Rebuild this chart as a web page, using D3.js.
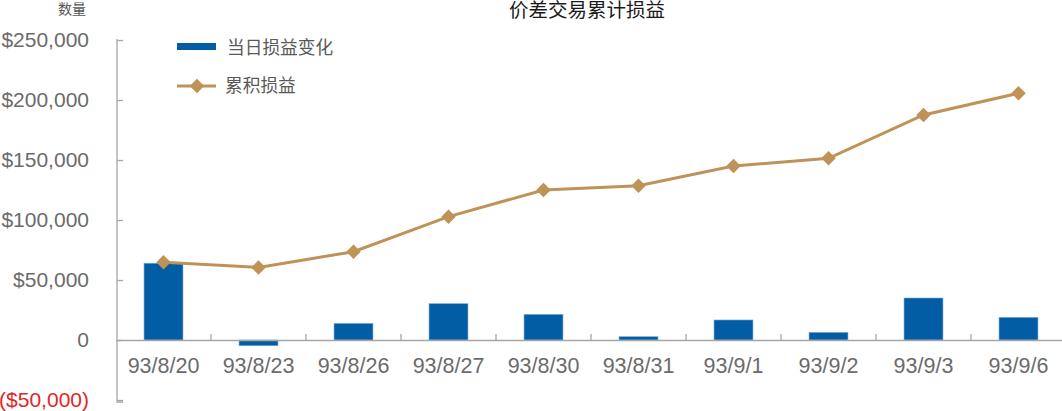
<!DOCTYPE html>
<html>
<head>
<meta charset="utf-8">
<script src="https://cdn.jsdelivr.net/npm/d3@7"></script>
<style>
  body { margin: 0; background: #fff; }
  svg { display: block; font-family: "Liberation Sans", Arial, "Noto Sans CJK SC", sans-serif; }
</style>
</head>
<body>
<div id="chart"></div>
<script>
// Chart data
var dates = ["93/8/20", "93/8/23", "93/8/26", "93/8/27", "93/8/30", "93/8/31", "93/9/1", "93/9/2", "93/9/3", "93/9/6"];
var dailyPnl = [64000, -4800, 13900, 30300, 21400, 2800, 16700, 6400, 35000, 18900];
var cumulativePnl = [64700, 60500, 73600, 102800, 125000, 128600, 145000, 151400, 187500, 205600];
var yTicks = [-50000, 0, 50000, 100000, 150000, 200000, 250000];

var width = 1062, height = 411;
var plotLeft = 116, plotRight = 1066, plotTop = 40, plotBottom = 400;

var svg = d3.select("#chart")
    .append("svg")
    .attr("width", width)
    .attr("height", height);

// Scales
var x = d3.scaleBand()
    .domain(dates)
    .range([plotLeft, plotRight])
    .padding(0);

var xBar = d3.scaleBand()
    .domain(dates)
    .range([plotLeft, plotRight])
    .paddingInner(0.59)
    .paddingOuter(0.295);

var y = d3.scaleLinear()
    .domain([-50000, 250000])
    .range([plotBottom, plotTop]);

var money = d3.format(",");
function fmt(d) {
    if (d === 0) return "0";
    if (d < 0) return "($" + money(-d) + ")";
    return "$" + money(d);
}

// Y axis
var yAxis = svg.append("g")
    .attr("transform", "translate(" + (plotLeft + 1) + ",0)")
    .call(d3.axisLeft(y).tickValues(yTicks).tickFormat(fmt).tickSizeInner(-6).tickSizeOuter(0).tickPadding(28));
yAxis.select(".domain").attr("stroke", "#a6a6a6").attr("stroke-width", 1.3)
    .attr("d", "M0," + (plotTop - 1) + "V" + (plotBottom + 2) + "H6");
yAxis.selectAll(".tick line").attr("stroke", "#a6a6a6").attr("stroke-width", 1.3);
yAxis.selectAll(".tick text")
    .style("font-size", "21px")
    .attr("fill", function (d) { return d < 0 ? "#e0262b" : "#6b6b6b"; });

// Bars
svg.selectAll("rect.bar")
    .data(dailyPnl)
    .enter()
    .append("rect")
    .attr("class", "bar")
    .attr("x", function (d, i) { return xBar(dates[i]); })
    .attr("width", xBar.bandwidth())
    .attr("y", function (d) { return y(Math.max(d, 0)); })
    .attr("height", function (d) { return Math.abs(y(d) - y(0)); })
    .attr("fill", "#035da4")
    .attr("stroke", "#7fb0dc")
    .attr("stroke-width", 0.6);

// X axis (at zero)
var xAxis = svg.append("g")
    .attr("transform", "translate(0," + y(0) + ")")
    .call(d3.axisBottom(x).tickSize(0).tickPadding(18));
xAxis.select(".domain").attr("stroke", "#a6a6a6").attr("stroke-width", 1.5);
xAxis.selectAll(".tick text")
    .style("font-size", "21.5px")
    .attr("fill", "#6b6b6b");

// category boundary ticks
svg.append("g")
    .selectAll("line")
    .data(dates.slice(1))
    .enter()
    .append("line")
    .attr("x1", function (d) { return x(d); })
    .attr("x2", function (d) { return x(d); })
    .attr("y1", y(0))
    .attr("y2", y(0) - 6)
    .attr("stroke", "#a6a6a6")
    .attr("stroke-width", 1.3);

// Cumulative line
var line = d3.line()
    .x(function (d, i) { return x(dates[i]) + x.bandwidth() / 2; })
    .y(function (d) { return y(d); });

svg.append("path")
    .datum(cumulativePnl)
    .attr("d", line)
    .attr("fill", "none")
    .attr("stroke", "#bf9358")
    .attr("stroke-width", 3);

var diamond = d3.symbol().type(d3.symbolSquare).size(105);
svg.selectAll("path.pt")
    .data(cumulativePnl)
    .enter()
    .append("path")
    .attr("class", "pt")
    .attr("d", diamond)
    .attr("transform", function (d, i) {
        return "translate(" + (x(dates[i]) + x.bandwidth() / 2) + "," + y(d) + ") rotate(45)";
    })
    .attr("fill", "#bf9358");

// Title and unit
svg.append("text")
    .attr("x", 587)
    .attr("y", 17)
    .attr("text-anchor", "middle")
    .style("font-size", "19.5px")
    .attr("fill", "#1a1a1a")
    .text("价差交易累计损益");

svg.append("text")
    .attr("x", 72)
    .attr("y", 14)
    .attr("text-anchor", "middle")
    .style("font-size", "14px")
    .attr("fill", "#555")
    .text("数量");

// Legend
var legend = svg.append("g");
legend.append("rect")
    .attr("x", 177).attr("y", 43)
    .attr("width", 39).attr("height", 7)
    .attr("fill", "#035da4");
legend.append("text")
    .attr("x", 227).attr("y", 54)
    .style("font-size", "17.7px")
    .attr("fill", "#595959")
    .text("当日损益变化");

legend.append("line")
    .attr("x1", 177).attr("x2", 216)
    .attr("y1", 86).attr("y2", 86)
    .attr("stroke", "#bf9358")
    .attr("stroke-width", 3);
legend.append("path")
    .attr("d", diamond)
    .attr("transform", "translate(197,86) rotate(45)")
    .attr("fill", "#bf9358");
legend.append("text")
    .attr("x", 225).attr("y", 92)
    .style("font-size", "17.7px")
    .attr("fill", "#595959")
    .text("累积损益");
</script>
</body>
</html>
